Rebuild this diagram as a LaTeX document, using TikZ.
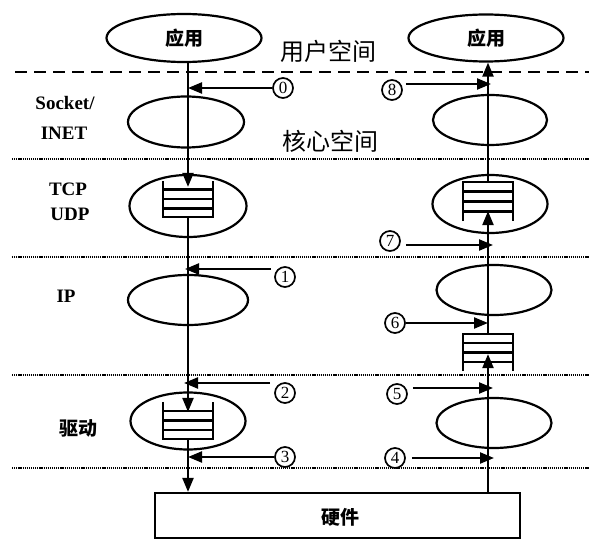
\documentclass[tikz,border=0pt]{standalone}
\usepackage{fontspec}
\setmainfont{Liberation Serif}
\newfontfamily\cjk{Noto Sans CJK SC}
\usetikzlibrary{arrows.meta,shapes.geometric,calc}
\newcommand\qopenup[1]{%
  \draw[qline] (#1.north west) -- (#1.south west) -- (#1.south east) -- (#1.north east);
  \foreach \f in {0.24,0.5,0.76}
    \draw[qline] ($(#1.north west)!\f!(#1.south west)$) -- ($(#1.north east)!\f!(#1.south east)$);}
\newcommand\qopendown[1]{%
  \draw[qline] (#1.south west) -- (#1.north west) -- (#1.north east) -- (#1.south east);
  \foreach \f in {0.24,0.5,0.76}
    \draw[qline] ($(#1.north west)!\f!(#1.south west)$) -- ($(#1.north east)!\f!(#1.south east)$);}
\begin{document}
\begin{tikzpicture}[x=1pt,y=-1pt,line width=2.2pt,
  ell/.style={draw,ellipse,inner sep=0pt,line width=2.2pt},
  qbox/.style={inner sep=0pt,minimum width=48pt},
  qline/.style={line width=2.4pt},
  tip/.style={-{Triangle[length=14pt,width=11pt]}},
  main/.style={tip,line width=2.2pt},
  arr/.style={tip,line width=2.2pt},
  num/.style={circle,draw,line width=1.7pt,minimum size=20pt,inner sep=0pt,font=\fontsize{17}{17}\selectfont},
  lab/.style={font=\bfseries\fontsize{19}{19}\selectfont},
  cjkb/.style={font=\cjk\bfseries\fontsize{19}{19}\selectfont},
  cjkl/.style={font=\cjk\fontsize{24}{24}\selectfont},
  dotline/.style={line width=1.6pt,dash pattern=on 1.2pt off 0.9pt},
  dashline/.style={line width=2.2pt,dash pattern=on 12pt off 7pt}]
\useasboundingbox (0,0) rectangle (589,540);
\fill[white] (0,0) rectangle (589,540);

% layer separators
\draw[dashline] (15,72) -- (589,72);
\draw[dotline] (12,159) -- (589,159);
\draw[dotline] (12,257) -- (589,257);
\draw[dotline] (12,375) -- (589,375);
\draw[dotline] (12,468) -- (589,468);

% space labels
\node[cjkl] (user) at (328,51) {用户空间};
\node[cjkl] (kern) at (330,141) {核心空间};

% layer labels
\node[lab] (lsock) at (65,103) {Socket/};
\node[lab] (linet) at (64,133) {INET};
\node[lab] (ltcp) at (68,189) {TCP};
\node[lab] (ludp) at (70,214) {UDP};
\node[lab] (lip) at (66,296) {IP};
\node[cjkb] (ldrv) at (78,428) {驱动};

% ellipses
\node[ell,cjkb,minimum width=155pt,minimum height=48pt] (appL) at (184,38) {应用};
\node[ell,cjkb,minimum width=155pt,minimum height=47pt] (appR) at (486,38) {应用};
\node[ell,minimum width=116pt,minimum height=51pt] (sockL) at (186,122) {};
\node[ell,minimum width=114pt,minimum height=50pt] (sockR) at (490,120) {};
\node[ell,minimum width=117pt,minimum height=62pt] (tcpL) at (188,206) {};
\node[ell,minimum width=115pt,minimum height=58pt] (tcpR) at (490,204) {};
\node[ell,minimum width=120pt,minimum height=50pt] (ipL) at (188,300) {};
\node[ell,minimum width=115pt,minimum height=50pt] (ipR) at (494,290) {};
\node[ell,minimum width=115pt,minimum height=57pt] (drvL) at (188,421) {};
\node[ell,minimum width=115pt,minimum height=50pt] (drvR) at (494,423) {};

% hardware
\node[draw,line width=2.2pt,minimum width=365pt,minimum height=45pt,inner sep=0pt] (hw) at (337.5,515.5) {};
\node[cjkb] (hwt) at (340,517) {硬件};

% queues
\node[qbox,minimum height=34pt] (qL1) at (188,199) {};
\node[qbox,minimum height=35pt] (qL2) at (188,420.5) {};
\node[qbox,minimum height=37pt] (qR1) at (488,201.5) {};
\node[qbox,minimum height=35pt] (qR2) at (488,352.5) {};
\qopenup{qL1}
\qopenup{qL2}
\qopendown{qR1}
\qopendown{qR2}

% main flow lines
\coordinate (lineL) at (188,0);
\coordinate (lineR) at (488,0);
\draw[main] (appL.south -| lineL) -- ([yshift=-6pt]qL1.north);
\draw[main] (qL1.south) -- ([yshift=-10pt]qL2.north);
\draw[main] (qL2.south) -- (qL2.south |- hw.north);
\draw[main] (qR2.south |- hw.north) -- ([yshift=17pt]qR2.south);
\draw[main] (qR2.north) -- ([yshift=10pt]qR1.south);
\draw[main] (qR1.north) -- (appR.south -| lineR);

% numbered markers
\node[num] (c0) at (283,88) {0};
\node[num] (c1) at (285,277) {1};
\node[num] (c2) at (285,393) {2};
\node[num] (c3) at (285,457) {3};
\node[num] (c4) at (395,458) {4};
\node[num] (c5) at (397,394) {5};
\node[num] (c6) at (395,323) {6};
\node[num] (c7) at (390,241) {7};
\node[num] (c8) at (392,90) {8};

\draw[arr] (c0.west) -- (c0.west -| lineL);
\draw[arr] ([xshift=-3pt,yshift=8pt]c1.west) -- ([xshift=-3pt,yshift=8pt]c1.west -| lineL);
\draw[arr] ([xshift=-4pt,yshift=10pt]c2.west) -- ([xshift=-4pt,yshift=10pt]c2.west -| lineL);
\draw[arr] (c3.west) -- (c3.west -| lineL);
\draw[arr] ([xshift=6pt]c4.east) -- ([xshift=6pt]c4.east -| lineR);
\draw[arr] ([xshift=5pt,yshift=6pt]c5.east) -- ([xshift=5pt,yshift=6pt]c5.east -| lineR);
\draw[arr] (c6.east) -- (c6.east -| lineR);
\draw[arr] ([xshift=5pt,yshift=-4pt]c7.east) -- ([xshift=5pt,yshift=-4pt]c7.east -| lineR);
\draw[arr] ([xshift=3pt,yshift=6pt]c8.east) -- ([xshift=3pt,yshift=6pt]c8.east -| lineR);
\end{tikzpicture}
\end{document}
